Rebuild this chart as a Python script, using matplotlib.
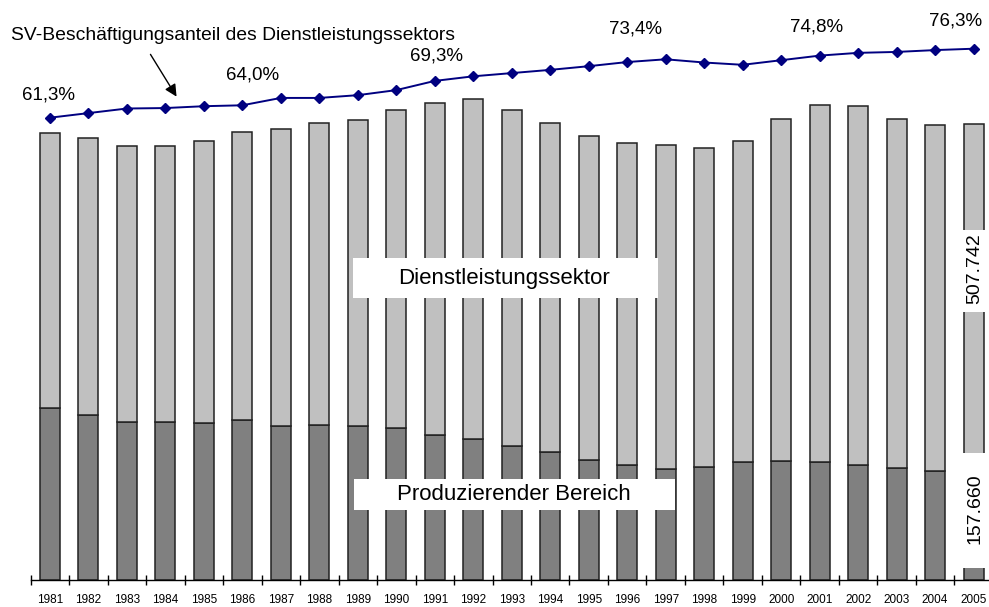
import numpy as np
import matplotlib
matplotlib.use("Agg")
import matplotlib.pyplot as plt
from matplotlib.patches import Rectangle

plt.rcParams['font.family'] = ['Liberation Sans', 'DejaVu Sans']

# data (in thousands)
years = list(range(1981, 2006))
produzierend = [251.1, 241.4, 231.1, 230.7, 229.7, 233.6, 224.4, 226.7, 224.8, 222.4,
                211.7, 206.3, 196.1, 187.3, 175.2, 167.9, 162.5, 165.4, 172.3, 174.2,
                172.7, 167.9, 163.1, 159.6, 157.66]
dienstleistung = [402.0, 403.5, 403.0, 403.4, 411.3, 420.5, 433.6, 440.1, 446.4, 463.4,
                  485.2, 496.4, 490.6, 479.5, 473.1, 469.7, 472.6, 465.3, 468.7, 499.3,
                  520.4, 524.2, 510.4, 504.3, 507.742]
anteil = [61.3, 62.3, 63.3, 63.4, 63.8, 64.0, 65.6, 65.6, 66.2, 67.3,
          69.3, 70.3, 71.0, 71.7, 72.5, 73.4, 74.0, 73.3, 72.8, 73.8,
          74.8, 75.4, 75.6, 76.0, 76.3]
label_years = [1981, 1986, 1991, 1996, 2001, 2005]
label_offsets = [(-1, 23), (10, 30), (2, 25), (8, 33), (-3, 29), (-18, 28)]

fig = plt.figure(figsize=(9.89, 6.07), dpi=100)
ax = fig.add_axes([0.031, 0.0445, 0.969, 0.9555])

x = np.arange(len(years))
ax.bar(x, produzierend, width=0.52, color='#808080', edgecolor='#222222', linewidth=1.1, zorder=2)
ax.bar(x, dienstleistung, width=0.52, bottom=produzierend, color='#c0c0c0',
       edgecolor='#222222', linewidth=1.1, zorder=2)

ax.set_xlim(-0.5, 24.4)
ax.set_ylim(0, 846.8)
for s in ['top', 'right', 'left']:
    ax.spines[s].set_visible(False)
ax.spines['bottom'].set_linewidth(1.0)
ax.set_yticks([])
ax.set_xticks(x)
ax.set_xticklabels([str(y) for y in years], fontsize=8.5)
ax.tick_params(axis='x', which='major', length=0, pad=10)
ax.set_xticks(np.arange(-0.5, 24, 1), minor=True)
ax.tick_params(axis='x', which='minor', length=7, direction='inout', width=1.0)

# share line on twin axis
ax2 = ax.twinx()
ax2.set_ylim(-39.2, 86.89)
ax2.set_axis_off()
ax2.plot(x, anteil, color='#000080', lw=1.4, marker='D', markersize=5, zorder=5)
for yr, off in zip(label_years, label_offsets):
    i = years.index(yr)
    ax2.annotate(f"{anteil[i]:.1f}%".replace('.', ','), (i, anteil[i]), xytext=off,
                 textcoords='offset pixels', ha='center', va='center', fontsize=13.5)

fig.text(11 / 989, 1 - 40 / 607, "SV-Beschäftigungsanteil des Dienstleistungssektors",
         fontsize=13.9, ha='left', va='baseline')
ax2.annotate("", xy=(178 / 989, 1 - 99 / 607), xytext=(149 / 989, 1 - 52 / 607),
             xycoords='figure fraction', textcoords='figure fraction',
             arrowprops=dict(arrowstyle='-|>', color='black', lw=1, mutation_scale=18))

# white label boxes
boxes = [((0.336, 0.4857), 0.319, 0.069),
         ((0.3374, 0.1207), 0.3353, 0.0529),
         ((0.9676, 0.462), 0.0324, 0.1414),
         ((0.9676, 0.0207), 0.0324, 0.1983)]
for xy, w, h in boxes:
    ax.add_patch(Rectangle(xy, w, h, transform=ax.transAxes, facecolor='white',
                           edgecolor='none', zorder=3))
ax.text(0.494, 0.520, "Dienstleistungssektor", transform=ax.transAxes, ha='center',
        va='center', fontsize=16, zorder=4)
ax.text(0.5043, 0.147, "Produzierender Bereich", transform=ax.transAxes, ha='center',
        va='center', fontsize=16, zorder=4)
ax.text(0.9854, 0.536, f"{dienstleistung[-1]:.3f}", transform=ax.transAxes, ha='center',
        va='center', fontsize=14, rotation=90, zorder=4)
ax.text(0.9854, 0.1224, f"{produzierend[-1]:.3f}", transform=ax.transAxes, ha='center',
        va='center', fontsize=14, rotation=90, zorder=4)

fig.savefig("out.png", dpi=100)
